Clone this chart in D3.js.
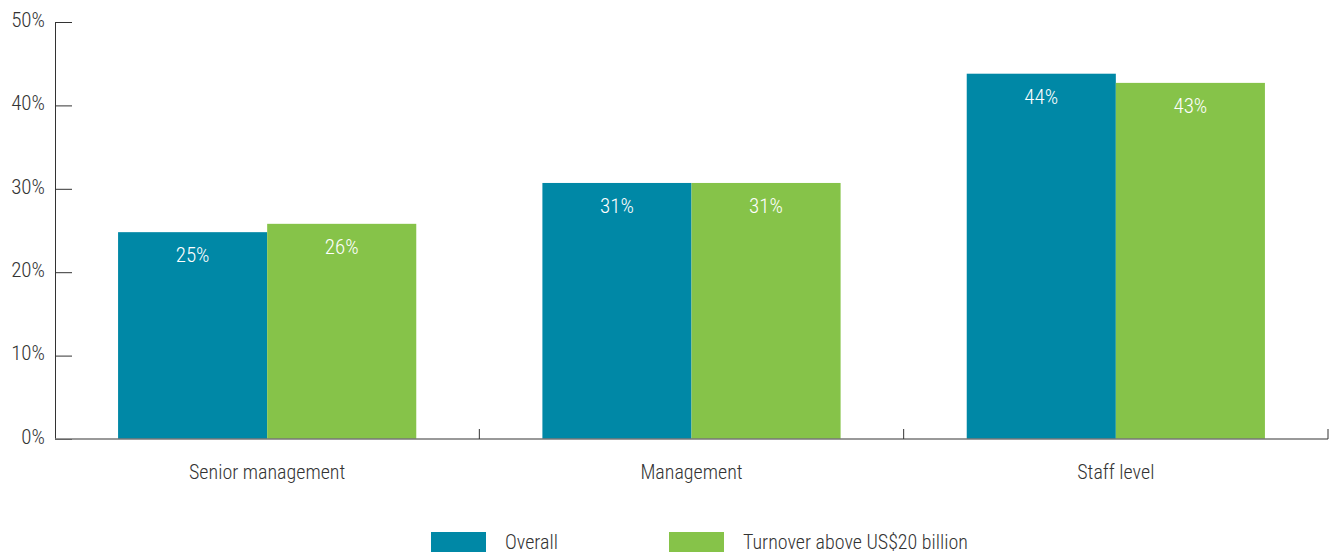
<!DOCTYPE html>
<html>
<head>
<meta charset="utf-8">
<script src="https://cdn.jsdelivr.net/npm/d3@7"></script>
<style>
  html, body { margin: 0; padding: 0; background: #fff; }
  svg text { font-family: "Liberation Sans Narrow", "Roboto Condensed", "DejaVu Sans Condensed", sans-serif; font-weight: 300; }
</style>
</head>
<body>
<svg id="chart" width="1333" height="556"></svg>
<script>
// data
const categories = ['Senior management', 'Management', 'Staff level'];
const seriesNames = ['Overall', 'Turnover above US$20 billion'];
const overall = [24.8, 30.7, 43.8];
const turnover = [25.8, 30.7, 42.7];
const valueLabels = [['25%', '26%'], ['31%', '31%'], ['44%', '43%']];
const yTicks = [0, 10, 20, 30, 40, 50];
const colors = ['#0088a6', '#86c349'];

const svg = d3.select('#chart');
const margin = { left: 55, right: 5, top: 22, bottom: 117 };
const W = 1333, H = 556;
const baseY = H - margin.bottom;

const x = d3.scaleBand()
    .domain(categories)
    .range([margin.left, W - margin.right])
    .paddingInner(0)
    .paddingOuter(0);

const y = d3.scaleLinear().domain([0, 50]).range([baseY, margin.top]);

const inner = d3.scaleBand()
    .domain(seriesNames)
    .range([0, x.bandwidth()])
    .paddingOuter(0.423);

// bars
const rows = categories.map((c, i) => ({ cat: c, vals: [overall[i], turnover[i]], labels: valueLabels[i] }));

const groups = svg.selectAll('.grp')
    .data(rows)
    .enter().append('g')
    .attr('class', 'grp')
    .attr('transform', d => `translate(${x(d.cat)},0)`);

groups.selectAll('rect')
    .data(d => d.vals.map((v, j) => ({ v, j, label: d.labels[j] })))
    .enter().append('rect')
    .attr('x', d => inner(seriesNames[d.j]))
    .attr('width', inner.bandwidth())
    .attr('y', d => y(d.v))
    .attr('height', d => baseY - y(d.v))
    .attr('fill', d => colors[d.j]);

groups.selectAll('text.val')
    .data(d => d.vals.map((v, j) => ({ v, j, label: d.labels[j] })))
    .enter().append('text')
    .attr('class', 'val')
    .attr('x', d => inner(seriesNames[d.j]) + inner.bandwidth() / 2)
    .attr('y', d => y(d.v) + 30)
    .attr('text-anchor', 'middle')
    .attr('fill', '#fff')
    .style('font-size', '21px')
    .text(d => d.label);

// y axis
const yAxis = svg.append('g')
    .attr('transform', `translate(${margin.left},0)`)
    .call(d3.axisRight(y).tickValues(yTicks).tickSize(17).tickFormat(d => d + '%'));
yAxis.select('.domain').attr('stroke', '#333');
yAxis.selectAll('.tick line').attr('stroke', '#333');
yAxis.selectAll('.tick text')
    .attr('x', -10)
    .attr('dy', '0.2em')
    .attr('text-anchor', 'end')
    .attr('fill', '#333')
    .style('font-size', '21px');

// x axis
const xAxis = svg.append('g')
    .attr('transform', `translate(0,${baseY})`);
xAxis.append('line')
    .attr('x1', margin.left).attr('x2', W - margin.right)
    .attr('y1', 0).attr('y2', 0)
    .attr('stroke', '#777').attr('stroke-width', 1.5);
xAxis.selectAll('.xtick')
    .data(categories.slice(1).concat(['end']))
    .enter().append('line')
    .attr('x1', d => d === 'end' ? W - margin.right : x(d))
    .attr('x2', d => d === 'end' ? W - margin.right : x(d))
    .attr('y1', -10).attr('y2', 0)
    .attr('stroke', '#333');
xAxis.selectAll('.xlab')
    .data(categories)
    .enter().append('text')
    .attr('x', d => x(d) + x.bandwidth() / 2)
    .attr('y', 40)
    .attr('text-anchor', 'middle')
    .attr('fill', '#333')
    .style('font-size', '20px')
    .text(d => d);

// legend
const legendX = [431, 669];
const legend = svg.selectAll('.leg')
    .data(seriesNames)
    .enter().append('g')
    .attr('transform', (d, i) => `translate(${legendX[i]},532)`);
legend.append('rect')
    .attr('width', 55).attr('height', 20)
    .attr('fill', (d, i) => colors[i]);
legend.append('text')
    .attr('x', 74).attr('y', 17)
    .attr('fill', '#333')
    .style('font-size', '20px')
    .text(d => d);
</script>
</body>
</html>
